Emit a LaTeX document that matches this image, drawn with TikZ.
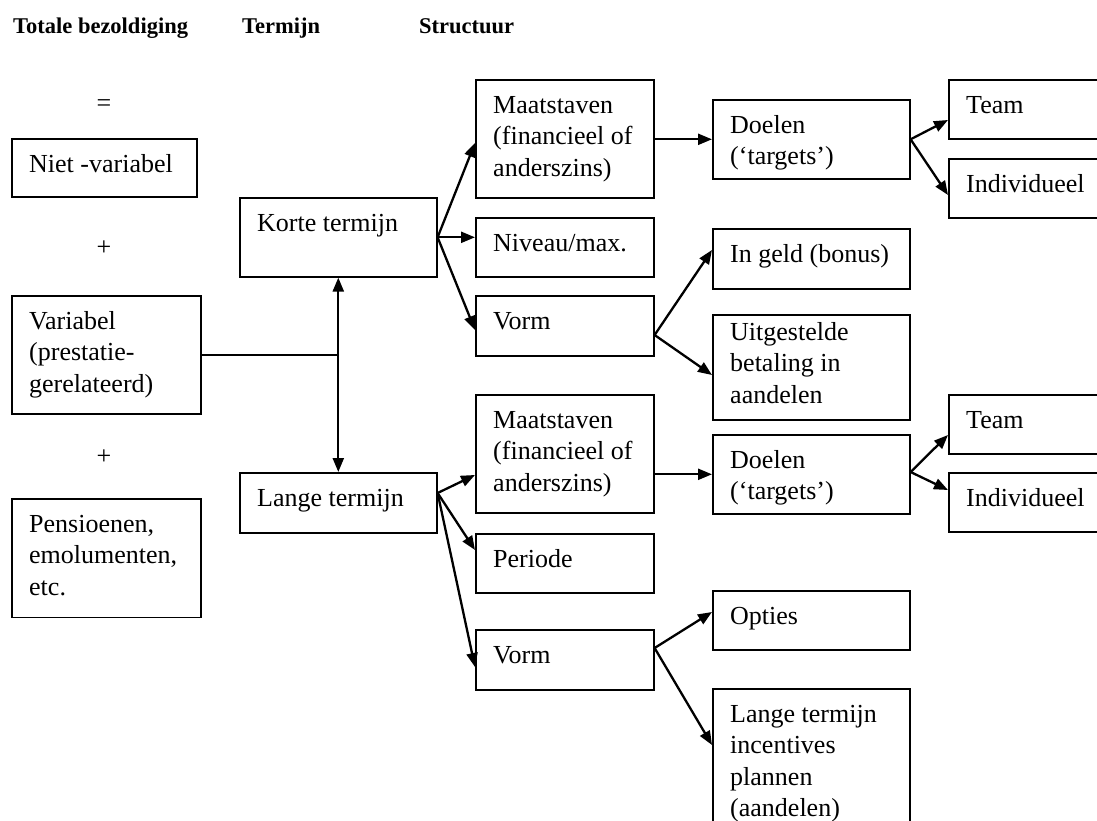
\documentclass[tikz,border=0pt]{standalone}
\usepackage{fontspec}
\setmainfont{Liberation Serif}
\usetikzlibrary{arrows.meta,calc}
\newcommand\mybox[7]{%
  \node[bx, minimum width=#4pt, minimum height=#5pt, anchor=north west] (#1) at (#2,#3) {};
  \node[tx, anchor=north west] (#1t) at ($(#1.north west)+(18,#6-22.05)$) {\strut#7};}
\begin{document}
\begin{tikzpicture}[x=1pt,y=-1pt,
  bx/.style={draw, line width=1.6pt, rectangle, inner sep=0pt},
  tx/.style={inner sep=0pt, align=left, font=\fontsize{26}{31.5}\selectfont},
  hd/.style={inner sep=0pt, font=\fontsize{22.5}{27}\selectfont\bfseries, anchor=base west},
  sym/.style={inner sep=0pt, font=\fontsize{26}{31.5}\selectfont, anchor=base},
  con/.style={line width=2.3pt, -{Triangle[length=14pt,width=11pt]}},
  dcon/.style={line width=2.3pt, {Triangle[length=14pt,width=11pt]}-{Triangle[length=14pt,width=11pt]}},
  thin/.style={line width=1.6pt}
]
\useasboundingbox (0,0) rectangle (1097,821);
\clip (0,0) rectangle (1097,821);

% headings
\node[hd] (h1) at (13,34) {Totale bezoldiging};
\node[hd] (h2) at (242,34) {Termijn};
\node[hd] (h3) at (419,34) {Structuur};

% operators
\node[sym] (eq) at (104,112) {=};
\node[sym] (p1) at (104,255) {+};
\node[sym] (p2) at (104,464) {+};

% column 1
\mybox{nv}{11}{138}{185}{58}{34}{Niet -variabel}
\mybox{var}{11}{295}{189}{118}{34}{Variabel\\(prestatie-\\gerelateerd)}
\mybox{pen}{11}{498}{189}{118.5}{34}{Pensioenen,\\emolumenten,\\etc.}

% column 2
\mybox{kt}{239}{197}{197}{79}{34}{Korte termijn}
\mybox{lt}{239}{472}{197}{60}{34}{Lange termijn}

% column 3
\mybox{m1}{475}{79}{178}{118}{34}{Maatstaven\\(financieel of\\anderszins)}
\mybox{niv}{475}{217}{178}{59}{34}{Niveau/max.}
\mybox{v1}{475}{295}{178}{60}{34}{Vorm}
\mybox{m2}{475}{394}{178}{118}{34}{Maatstaven\\(financieel of\\anderszins)}
\mybox{per}{475}{533}{178}{59}{34}{Periode}
\mybox{v2}{475}{629}{178}{60}{34}{Vorm}

% column 4
\mybox{d1}{712}{99}{197}{79}{34}{Doelen\\(‘targets’)}
\mybox{ig}{712}{228}{197}{60}{34}{In geld (bonus)}
\mybox{uit}{712}{314}{197}{105}{26}{Uitgestelde\\betaling in\\aandelen}
\mybox{d2}{712}{434}{197}{79}{34}{Doelen\\(‘targets’)}
\mybox{opt}{712}{590}{197}{59}{34}{Opties}
\mybox{lti}{712}{688}{197}{200}{34}{Lange termijn\\incentives\\plannen\\(aandelen)}

% column 5
\mybox{t1}{948}{79}{200}{59}{34}{Team}
\mybox{i1}{948}{158}{200}{59}{34}{Individueel}
\mybox{t2}{948}{394}{200}{59}{34}{Team}
\mybox{i2}{948}{472}{200}{59}{34}{Individueel}

% connectors
\draw[thin] (var.east) -- (var.east -| kt.south);
\draw[dcon] (kt.south) -- (lt.north);

\draw[con] (kt.east) -- ($(m1.north west)+(0,64)$);
\draw[con] (kt.east) -- (kt.east -| niv.west);
\draw[con] (kt.east) -- ($(v1.north west)+(0,35)$);

\draw[con] (d1.west -| m1.east) -- (d1.west);
\draw[con] (d1.east) -- ($(t1.north west)+(0,41)$);
\draw[con] (d1.east) -- ($(i1.north west)+(0,37)$);

\draw[con] ($(v1.north east)+(0,40)$) -- ($(ig.north west)+(0,22)$);
\draw[con] ($(v1.north east)+(0,40)$) -- ($(uit.north west)+(0,61)$);

\draw[con] ($(lt.north east)+(0,21)$) -- ($(m2.north west)+(0,81)$);
\draw[con] ($(lt.north east)+(0,21)$) -- ($(per.north west)+(0,17)$);
\draw[con] ($(lt.north east)+(0,21)$) -- ($(v2.north west)+(0,38)$);

\draw[con] (d2.west -| m2.east) -- (d2.west);
\draw[con] ($(d2.north east)+(0,38)$) -- ($(t2.north west)+(0,41)$);
\draw[con] ($(d2.north east)+(0,38)$) -- ($(i2.north west)+(0,18)$);

\draw[con] ($(v2.north east)+(0,19)$) -- ($(opt.north west)+(0,22)$);
\draw[con] ($(v2.north east)+(0,19)$) -- ($(lti.north west)+(0,57)$);
\end{tikzpicture}
\end{document}
